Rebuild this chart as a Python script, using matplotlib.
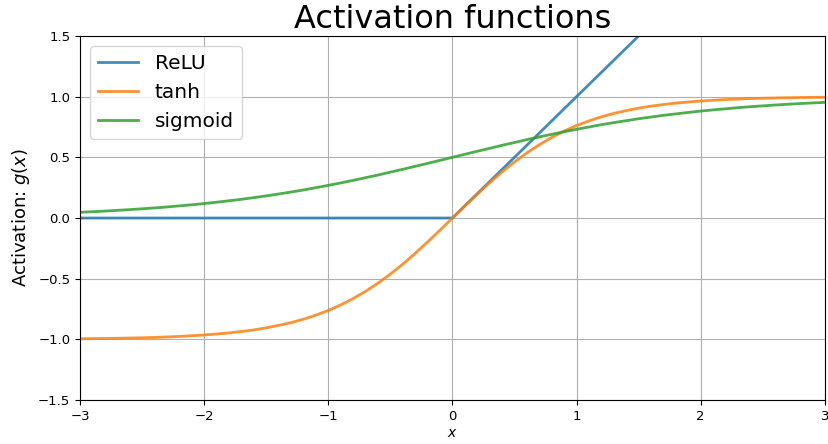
import matplotlib
matplotlib.use("Agg")
import matplotlib.pyplot as plt

# sample points (step 0.1)
x = [-3.0, -2.9, -2.8, -2.7, -2.6, -2.5, -2.4, -2.3, -2.2, -2.1, -2.0,
     -1.9, -1.8, -1.7, -1.6, -1.5, -1.4, -1.3, -1.2, -1.1, -1.0,
     -0.9, -0.8, -0.7, -0.6, -0.5, -0.4, -0.3, -0.2, -0.1, 0.0,
     0.1, 0.2, 0.3, 0.4, 0.5, 0.6, 0.7, 0.8, 0.9, 1.0,
     1.1, 1.2, 1.3, 1.4, 1.5, 1.6, 1.7, 1.8, 1.9, 2.0,
     2.1, 2.2, 2.3, 2.4, 2.5, 2.6, 2.7, 2.8, 2.9, 3.0]
relu = [0] * 31 + [0.1, 0.2, 0.3, 0.4, 0.5, 0.6, 0.7, 0.8, 0.9, 1.0,
                   1.1, 1.2, 1.3, 1.4, 1.5, 1.6, 1.7, 1.8, 1.9, 2.0,
                   2.1, 2.2, 2.3, 2.4, 2.5, 2.6, 2.7, 2.8, 2.9, 3.0]
tanh = [-0.995, -0.994, -0.993, -0.991, -0.989, -0.987, -0.984, -0.980, -0.976, -0.970, -0.964,
        -0.956, -0.947, -0.935, -0.922, -0.905, -0.885, -0.862, -0.834, -0.800, -0.762,
        -0.716, -0.664, -0.604, -0.537, -0.462, -0.380, -0.291, -0.197, -0.100, 0.0,
        0.100, 0.197, 0.291, 0.380, 0.462, 0.537, 0.604, 0.664, 0.716, 0.762,
        0.800, 0.834, 0.862, 0.885, 0.905, 0.922, 0.935, 0.947, 0.956, 0.964,
        0.970, 0.976, 0.980, 0.984, 0.987, 0.989, 0.991, 0.993, 0.994, 0.995]
sigmoid = [0.047, 0.052, 0.057, 0.063, 0.069, 0.076, 0.083, 0.091, 0.100, 0.109, 0.119,
           0.130, 0.142, 0.154, 0.168, 0.182, 0.198, 0.214, 0.231, 0.250, 0.269,
           0.289, 0.310, 0.332, 0.354, 0.378, 0.401, 0.426, 0.450, 0.475, 0.5,
           0.525, 0.550, 0.574, 0.599, 0.622, 0.646, 0.668, 0.690, 0.711, 0.731,
           0.750, 0.769, 0.786, 0.802, 0.818, 0.832, 0.846, 0.858, 0.870, 0.881,
           0.891, 0.900, 0.909, 0.917, 0.924, 0.931, 0.937, 0.943, 0.948, 0.953]

fig = plt.figure(figsize=(8.29, 4.44), dpi=100)
ax = fig.add_axes([0.0965, 0.099, 0.8985, 0.82])

ax.plot(x, relu, label='ReLU', lw=2, alpha=0.85)
ax.plot(x, tanh, label='tanh', lw=2, alpha=0.85)
ax.plot(x, sigmoid, label='sigmoid', lw=2, alpha=0.85)

ax.set_xlim(-3, 3)
ax.set_ylim(-1.5, 1.5)
ax.grid(True)
ax.tick_params(labelsize=9.5)
ax.set_title('Activation functions', fontsize=23)
ax.set_xlabel('$x$', fontsize=10, labelpad=2)
ax.set_ylabel('Activation: $g(x)$', fontsize=13)
ax.legend(loc='upper left', fontsize=14.5)

fig.savefig('out.png', dpi=100)
